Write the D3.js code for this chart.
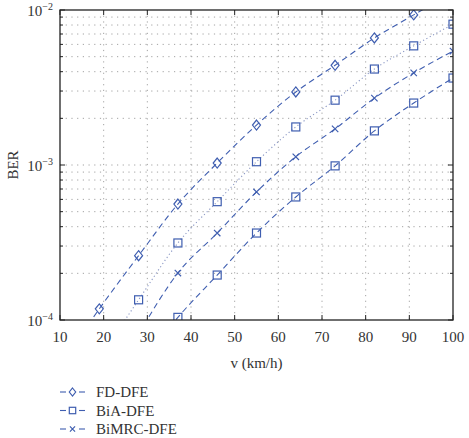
<!DOCTYPE html>
<html>
<head>
<meta charset="utf-8">
<script src="https://cdn.jsdelivr.net/npm/d3@7"></script>
<style>
  body { margin: 0; background: #fff; }
  svg text { font-family: "Liberation Serif", "DejaVu Serif", serif; fill: #333; }
</style>
</head>
<body>
<svg id="chart" width="469" height="438"></svg>
<script>
// speed values (km/h)
const speeds = [10, 19, 28, 37, 46, 55, 64, 73, 82, 91, 100];

// BER (points outside 1e-4..1e-2 are clipped)
const fdDfe = [5e-5, 1.18e-4, 2.6e-4, 5.6e-4, 1.03e-3, 1.81e-3, 2.96e-3, 4.4e-3, 6.6e-3, 9.3e-3, 1.3e-2];
const dottedSq = [null, 5.6e-5, 1.35e-4, 3.14e-4, 5.8e-4, 1.05e-3, 1.76e-3, 2.62e-3, 4.16e-3, 5.87e-3, 8.1e-3];
const biMrcDfe = [null, null, 8.1e-5, 2.01e-4, 3.64e-4, 6.7e-4, 1.13e-3, 1.71e-3, 2.7e-3, 3.93e-3, 5.43e-3];
const biaDfe = [null, null, 5e-5, 1.04e-4, 1.95e-4, 3.64e-4, 6.22e-4, 9.87e-4, 1.66e-3, 2.51e-3, 3.64e-3];

const xTicks = [10, 20, 30, 40, 50, 60, 70, 80, 90, 100];
const yDecades = [1e-4, 1e-3, 1e-2];
const legendLabels = ["FD-DFE", "BiA-DFE", "BiMRC-DFE"];

const series = [
  { values: fdDfe, marker: "diamond", dash: "6,4", light: false },
  { values: dottedSq, marker: "square", dash: "1.2,2.6", light: true },
  { values: biMrcDfe, marker: "cross", dash: "6,4", light: false },
  { values: biaDfe, marker: "square", dash: "6,4", light: false }
];

const blue = "#3f5eb0";
const margin = { top: 10, right: 16, bottom: 118, left: 60 };
const width = 469 - margin.left - margin.right;
const height = 438 - margin.top - margin.bottom;

const svg = d3.select("#chart");
const g = svg.append("g").attr("transform", `translate(${margin.left},${margin.top})`);

const x = d3.scaleLinear().domain([10, 100]).range([0, width]);
const y = d3.scaleLog().domain([1e-4, 1e-2]).range([height, 0]);

// minor log values
const minors = [];
[1e-4, 1e-3].forEach((d) => {
  for (let k = 2; k <= 9; k++) minors.push(d * k);
});

// grid
g.append("g")
  .selectAll("line")
  .data(minors.concat([1e-3]))
  .join("line")
  .attr("x1", 0).attr("x2", width)
  .attr("y1", (d) => y(d)).attr("y2", (d) => y(d))
  .attr("stroke", "#999").attr("stroke-width", 0.9)
  .attr("stroke-dasharray", "1.2,4.5");

g.append("g")
  .selectAll("line")
  .data(xTicks.slice(1, -1))
  .join("line")
  .attr("x1", (d) => x(d)).attr("x2", (d) => x(d))
  .attr("y1", 0).attr("y2", height)
  .attr("stroke", "#999").attr("stroke-width", 0.9)
  .attr("stroke-dasharray", "1.2,4.5");

// clip
svg.append("defs").append("clipPath").attr("id", "plotclip")
  .append("rect").attr("width", width).attr("height", height);

const plot = g.append("g").attr("clip-path", "url(#plotclip)");

const line = d3.line()
  .defined((d) => d[1] != null)
  .x((d) => x(d[0]))
  .y((d) => y(d[1]))
  .curve(d3.curveMonotoneX);

function drawMarker(sel, type, size) {
  if (type === "diamond") {
    sel.append("path")
      .attr("d", `M0,${-size * 1.25}L${size},0L0,${size * 1.25}L${-size},0Z`)
      .attr("fill", "none").attr("stroke", blue).attr("stroke-width", 1.2);
  } else if (type === "square") {
    sel.append("rect")
      .attr("x", -size).attr("y", -size)
      .attr("width", size * 2).attr("height", size * 2)
      .attr("fill", "none").attr("stroke", blue).attr("stroke-width", 1.2);
  } else {
    sel.append("path")
      .attr("d", `M${-size * 0.8},${-size * 0.8}L${size * 0.8},${size * 0.8}M${-size * 0.8},${size * 0.8}L${size * 0.8},${-size * 0.8}`)
      .attr("stroke", blue).attr("stroke-width", 1.2);
  }
}

series.forEach((s) => {
  const pts = speeds.map((v, i) => [v, s.values[i]]);
  plot.append("path")
    .datum(pts)
    .attr("d", line)
    .attr("fill", "none")
    .attr("stroke", s.light ? "#8a97c4" : blue)
    .attr("stroke-width", 1.1)
    .attr("stroke-dasharray", s.dash);

  plot.selectAll(null)
    .data(pts.filter((d) => d[1] != null && d[1] >= 1e-4 * 0.98 && d[1] <= 1.02e-2))
    .join("g")
    .attr("transform", (d) => `translate(${x(d[0])},${y(d[1])})`)
    .each(function () {
      drawMarker(d3.select(this), s.marker, 4);
    });
});

// box
g.append("rect")
  .attr("width", width).attr("height", height)
  .attr("fill", "none").attr("stroke", "#222").attr("stroke-width", 1.3);

// ticks (inward, all sides)
const tickG = g.append("g").attr("stroke", "#222").attr("stroke-width", 1);
xTicks.forEach((d) => {
  tickG.append("line").attr("x1", x(d)).attr("x2", x(d)).attr("y1", height).attr("y2", height - 5);
  tickG.append("line").attr("x1", x(d)).attr("x2", x(d)).attr("y1", 0).attr("y2", 5);
});
yDecades.forEach((d) => {
  tickG.append("line").attr("x1", 0).attr("x2", 5).attr("y1", y(d)).attr("y2", y(d));
  tickG.append("line").attr("x1", width).attr("x2", width - 5).attr("y1", y(d)).attr("y2", y(d));
});
minors.forEach((d) => {
  tickG.append("line").attr("x1", 0).attr("x2", 3).attr("y1", y(d)).attr("y2", y(d));
  tickG.append("line").attr("x1", width).attr("x2", width - 3).attr("y1", y(d)).attr("y2", y(d));
});

// x tick labels
g.append("g")
  .selectAll("text")
  .data(xTicks)
  .join("text")
  .attr("x", (d) => x(d))
  .attr("y", height + 22)
  .attr("text-anchor", "middle")
  .attr("font-size", 15)
  .text((d) => d);

// y tick labels 10^n
const yl = g.append("g")
  .selectAll("text")
  .data(yDecades)
  .join("text")
  .attr("x", -7)
  .attr("y", (d) => y(d) + 6)
  .attr("text-anchor", "end")
  .attr("font-size", 15);
yl.append("tspan").text("10");
yl.append("tspan")
  .attr("dy", -6)
  .attr("font-size", 10)
  .text((d) => "\u2212" + Math.round(-Math.log10(d)));

// axis titles
g.append("text")
  .attr("x", width / 2)
  .attr("y", height + 48)
  .attr("text-anchor", "middle")
  .attr("font-size", 15)
  .text("v (km/h)");

g.append("text")
  .attr("transform", `translate(-42,${height / 2}) rotate(-90)`)
  .attr("text-anchor", "middle")
  .attr("font-size", 15)
  .text("BER");

// legend
const legendMarkers = ["diamond", "square", "cross"];
const legend = svg.append("g").attr("transform", "translate(60,392)");
legendLabels.forEach((label, i) => {
  const row = legend.append("g").attr("transform", `translate(0,${i * 18.5})`);
  row.append("line").attr("x1", 0).attr("x2", 6).attr("stroke", blue).attr("stroke-width", 1.1);
  row.append("line").attr("x1", 19).attr("x2", 25).attr("stroke", blue).attr("stroke-width", 1.1);
  const m = row.append("g").attr("transform", "translate(12.5,0)");
  drawMarker(m, legendMarkers[i], 3.2);
  row.append("text")
    .attr("x", 36)
    .attr("y", 5)
    .attr("font-size", 15)
    .text(label);
});
</script>
</body>
</html>
